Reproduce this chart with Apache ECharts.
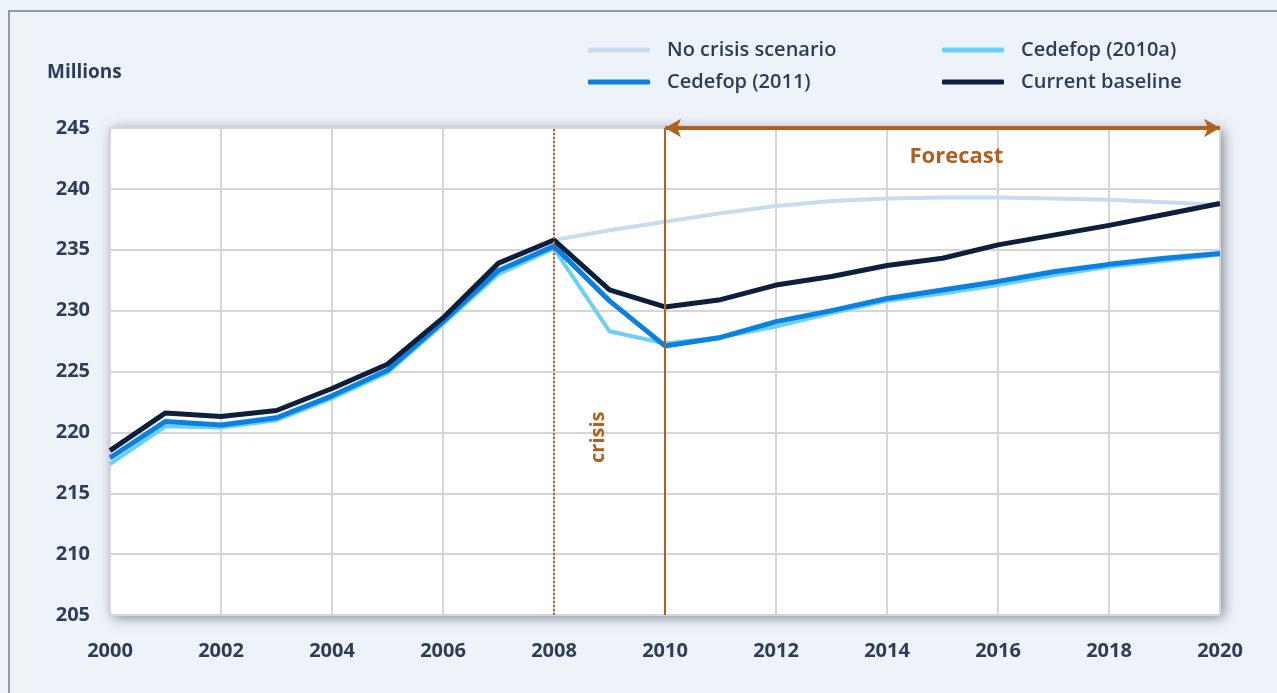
<!DOCTYPE html>
<html>
<head>
<meta charset="utf-8">
<script src="https://cdn.jsdelivr.net/npm/echarts@6/dist/echarts.min.js"></script>
<style>
  html, body { margin: 0; padding: 0; background: #eef2f9; }
  #frame {
    position: absolute; left: 8px; top: 10px; width: 1269px; height: 683px;
    border-top: 2px solid #8a9bb3; border-left: 2px solid #8a9bb3; box-sizing: border-box;
  }
  #chart { position: absolute; left: 0; top: 0; width: 1277px; height: 693px; }
</style>
</head>
<body>
<div id="frame"></div>
<div id="chart"></div>
<script>
// Employment in millions, EU — scenarios
const years = [2000, 2001, 2002, 2003, 2004, 2005, 2006, 2007, 2008, 2009, 2010,
  2011, 2012, 2013, 2014, 2015, 2016, 2017, 2018, 2019, 2020];
const baseline = [218.5, 221.6, 221.3, 221.8, 223.6, 225.6, 229.4, 233.9, 235.8, 231.7, 230.3,
  230.9, 232.1, 232.8, 233.7, 234.3, 235.4, 236.2, 237.0, 237.9, 238.8];
const cedefop2011 = [217.9, 220.9, 220.6, 221.2, 223.0, 225.1, 229.1, 233.3, 235.3, 230.8, 227.1,
  227.8, 229.1, 230.0, 231.0, 231.7, 232.4, 233.2, 233.8, 234.3, 234.7];
const cedefop2010a = [217.4, 220.5, 220.4, 221.0, 222.8, 224.9, 228.9, 233.0, 235.1, 228.3, 227.3,
  227.8, 228.7, 229.8, 230.8, 231.4, 232.1, 232.9, 233.6, 234.1, 234.6];
const noCrisisYears = [2008, 2009, 2010, 2011, 2012, 2013, 2014, 2015, 2016, 2017, 2018, 2019, 2020];
const noCrisis = [235.8, 236.6, 237.3, 238.0, 238.6, 239.0, 239.2, 239.3, 239.3, 239.2, 239.1, 238.9, 238.7];

const crisisYear = 2008;
const forecastStart = 2010;
const forecastEnd = 2020;

const pairs = (xs, ys) => xs.map((x, i) => [x, ys[i]]);

const BROWN = '#b2601f';
const TEXT = '#2e3d56';
const FONT = '"Open Sans", sans-serif';

const chart = echarts.init(document.getElementById('chart'), null, { renderer: 'canvas' });

const legendText = { color: TEXT, fontFamily: FONT, fontWeight: 600, fontSize: 20, padding: [0, 0, 0, 12] };

chart.setOption({
  animation: false,
  backgroundColor: 'transparent',
  grid: {
    left: 110, right: 57, top: 128, bottom: 78,
    show: true, backgroundColor: '#ffffff', borderWidth: 0,
    shadowColor: 'rgba(40,50,70,0.6)', shadowBlur: 12, shadowOffsetX: 3, shadowOffsetY: 2,
  },
  title: {
    text: 'Millions', left: 42, top: 58,
    textStyle: { color: TEXT, fontFamily: FONT, fontWeight: 'bold', fontSize: 19 },
  },
  legend: [
    {
      orient: 'vertical', left: 583, top: 35, itemWidth: 62, itemHeight: 5, itemGap: 12,
      icon: 'roundRect', textStyle: legendText,
      data: ['No crisis scenario', 'Cedefop (2011)'],
    },
    {
      orient: 'vertical', left: 937, top: 35, itemWidth: 62, itemHeight: 5, itemGap: 12,
      icon: 'roundRect', textStyle: legendText,
      data: ['Cedefop (2010a)', 'Current baseline'],
    },
  ],
  xAxis: {
    type: 'value', min: 2000, max: 2020, interval: 2,
    axisLine: { show: false }, axisTick: { show: false },
    axisLabel: { color: TEXT, fontFamily: FONT, fontWeight: 'bold', fontSize: 20, margin: 26,
      formatter: (v) => String(v) },
    splitLine: { show: true, lineStyle: { color: '#d6d6d6', width: 2 } },
  },
  yAxis: {
    type: 'value', min: 205, max: 245, interval: 5,
    axisLine: { show: false }, axisTick: { show: false },
    axisLabel: { color: TEXT, fontFamily: FONT, fontWeight: 'bold', fontSize: 20, margin: 20 },
    splitLine: { show: true, lineStyle: { color: '#d6d6d6', width: 2 } },
  },
  series: [
    {
      name: 'No crisis scenario', type: 'line', symbol: 'none',
      data: pairs(noCrisisYears, noCrisis),
      lineStyle: { color: '#c8dcf0', width: 4 }, itemStyle: { color: '#c8dcf0' },
    },
    {
      name: 'Cedefop (2010a)', type: 'line', symbol: 'none',
      data: pairs(years, cedefop2010a),
      lineStyle: { color: '#6cd0f6', width: 4 }, itemStyle: { color: '#6cd0f6' },
    },
    {
      name: 'Cedefop (2011)', type: 'line', symbol: 'none',
      data: pairs(years, cedefop2011),
      lineStyle: { color: '#0a80e2', width: 5 }, itemStyle: { color: '#0a80e2' },
    },
    {
      name: 'Current baseline', type: 'line', symbol: 'none',
      data: pairs(years, baseline),
      lineStyle: { color: '#0d1f3c', width: 5 }, itemStyle: { color: '#0d1f3c' },
      markLine: {
        silent: true, symbol: 'none', label: { show: false },
        data: [
          { xAxis: crisisYear, lineStyle: { color: BROWN, type: 'dotted', width: 2 } },
          { xAxis: forecastStart, lineStyle: { color: BROWN, type: 'solid', width: 2 } },
          [
            { coord: [forecastStart, 245], symbol: 'arrow', symbolSize: [14, 16],
              lineStyle: { color: BROWN, type: 'solid', width: 4 } },
            { coord: [forecastEnd, 245], symbol: 'arrow', symbolSize: [14, 16] },
          ],
        ],
      },
      markPoint: {
        silent: true, symbol: 'circle', symbolSize: 0,
        data: [
          { coord: [2015.25, 242.6],
            label: { show: true, formatter: 'Forecast', color: BROWN, fontFamily: FONT,
              fontWeight: 'bold', fontSize: 22 } },
          { coord: [2008.8, 219.6],
            label: { show: true, formatter: 'crisis', color: BROWN, fontFamily: FONT,
              fontWeight: 'bold', fontSize: 20, rotate: 90 } },
        ],
      },
    },
  ],
});
</script>
</body>
</html>
